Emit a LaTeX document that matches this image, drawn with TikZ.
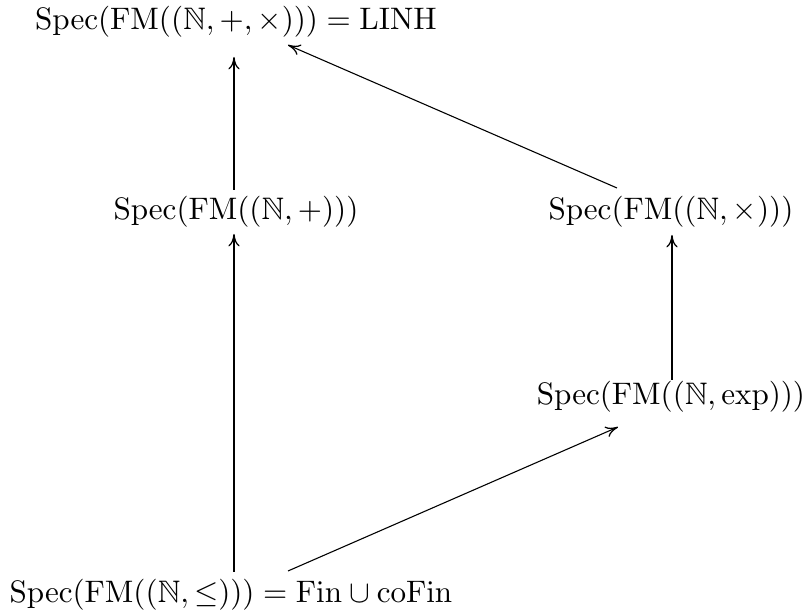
\documentclass[tikz,border=0pt]{standalone}
\usepackage{amssymb}
\usetikzlibrary{arrows.meta}
\begin{document}
\begin{tikzpicture}[x=0.3216pt,y=-0.3216pt,
  obj/.style={inner sep=0pt},
  tip/.style={-{To[length=4pt,width=3.6pt,line width=0.4pt]}},
  strong/.style={line width=0.9pt,tip},
  weak/.style={line width=0.35pt,tip}]
\useasboundingbox (0,0) rectangle (806,616);
\node[obj] (top) at (236,22) {$\mathrm{Spec}(\mathrm{FM}((\mathbb{N},+,\times)))=\mathrm{LINH}$};
\node[obj] (lm) at (236,212) {$\mathrm{Spec}(\mathrm{FM}((\mathbb{N},+)))$};
\node[obj] (rm) at (671,212) {$\mathrm{Spec}(\mathrm{FM}((\mathbb{N},\times)))$};
\node[obj] (rl) at (671,397) {$\mathrm{Spec}(\mathrm{FM}((\mathbb{N},\exp)))$};
\node[obj] (bot) at (231,595) {$\mathrm{Spec}(\mathrm{FM}((\mathbb{N},\leq)))=\mathrm{Fin}\cup\mathrm{coFin}$};
% vertical arrows
\draw[strong] ([shift={(3,-23)}]bot.center) -- ([shift={(-2,22)}]lm.center);
\draw[strong] ([shift={(-2,-22)}]lm.center) -- ([shift={(-2,35)}]top.center);
\draw[strong] ([shift={(1,-17)}]rl.center) -- ([shift={(1,23)}]rm.center);
% diagonal arrows
\draw[weak] ([shift={(57,-24)}]bot.center) -- ([shift={(-53,30)}]rl.center);
\draw[weak] ([shift={(-54,-24)}]rm.center) -- ([shift={(52,23)}]top.center);
\end{tikzpicture}
\end{document}
